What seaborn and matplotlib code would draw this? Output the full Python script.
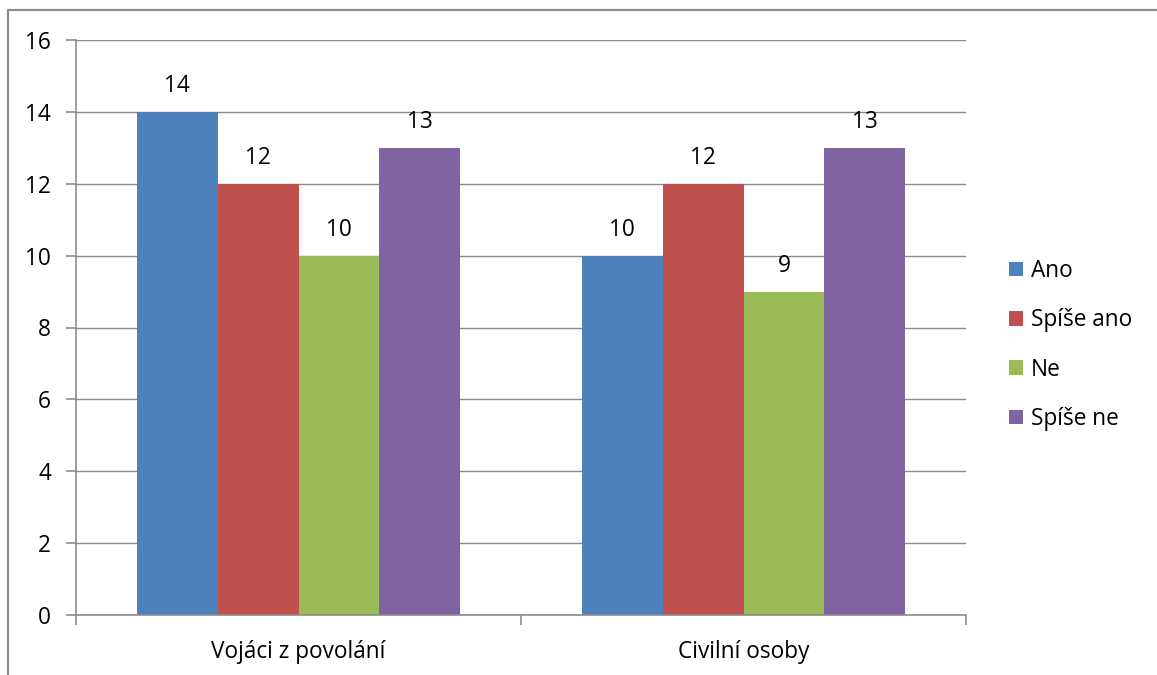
import matplotlib
matplotlib.use("Agg")
import matplotlib.pyplot as plt
from matplotlib.lines import Line2D
from matplotlib.ticker import MultipleLocator, FixedLocator
import seaborn as sns
import pandas as pd

groups = ["Vojáci z povolání", "Civilní osoby"]
answers = ["Ano", "Spíše ano", "Ne", "Spíše ne"]
ano = [14, 10]
spise_ano = [12, 12]
ne = [10, 9]
spise_ne = [13, 13]
colors = ["#4F81BD", "#C0504D", "#9BBB59", "#8064A2"]

rows = []
for ans, vals in zip(answers, [ano, spise_ano, ne, spise_ne]):
    for g, v in zip(groups, vals):
        rows.append({"skupina": g, "odpověď": ans, "počet": v})
df = pd.DataFrame(rows)

sns.set_theme(style="white")
plt.rcParams["font.family"] = ["Open Sans", "DejaVu Sans"]
FS = 16.3
TXT = "#000000"

W, H = 1157, 675
fig = plt.figure(figsize=(W / 100, H / 100), dpi=100)
ax = fig.add_axes([76 / W, 1 - 615 / H, (966 - 76) / W, (615 - 40) / H])

sns.barplot(data=df, x="skupina", y="počet", hue="odpověď", order=groups,
            hue_order=answers, palette=colors, width=0.728, gap=0,
            saturation=1, ax=ax, legend=True, linewidth=0, edgecolor="none")

grey = "#8C8C8C"
ax.set_ylim(0, 16)
ax.set_xlim(-0.5, 1.5)
ax.yaxis.set_major_locator(MultipleLocator(2))
ax.yaxis.grid(True, color=grey, linewidth=1)
ax.set_axisbelow(True)
for s in ["top", "right"]:
    ax.spines[s].set_visible(False)
for s in ["left", "bottom"]:
    ax.spines[s].set_color(grey)
    ax.spines[s].set_linewidth(1.2)

ax.set_xlabel("")
ax.set_ylabel("")
ax.tick_params(axis="y", which="major", direction="out", length=7, width=1.2,
               color=grey, labelsize=FS, pad=11, left=True)
ax.tick_params(axis="x", which="major", length=0, labelsize=FS, pad=18)
ax.xaxis.set_minor_locator(FixedLocator([-0.5, 0.5, 1.5]))
ax.tick_params(axis="x", which="minor", direction="out", length=7, width=1.2,
               color=grey, bottom=True)
for lbl in ax.get_yticklabels() + ax.get_xticklabels():
    lbl.set_color(TXT)

for cont in ax.containers:
    ax.bar_label(cont, padding=10, fontsize=FS, color=TXT)

handles, labels = ax.get_legend_handles_labels()
leg = ax.legend(handles, labels, loc="center left",
                bbox_to_anchor=(1000 / W, 1 - 345 / H), bbox_transform=fig.transFigure,
                frameon=False, fontsize=FS, handlelength=0.62, handleheight=0.62,
                handletextpad=0.35, labelspacing=1.12, borderaxespad=0)
for t in leg.get_texts():
    t.set_color(TXT)

# outer chart border
fig.add_artist(Line2D([8 / W, 1], [1 - 10 / H, 1 - 10 / H], color=grey,
                      linewidth=1.6, transform=fig.transFigure))
fig.add_artist(Line2D([8 / W, 8 / W], [0, 1 - 10 / H], color=grey,
                      linewidth=1.6, transform=fig.transFigure))

fig.savefig("out.png", dpi=100)
